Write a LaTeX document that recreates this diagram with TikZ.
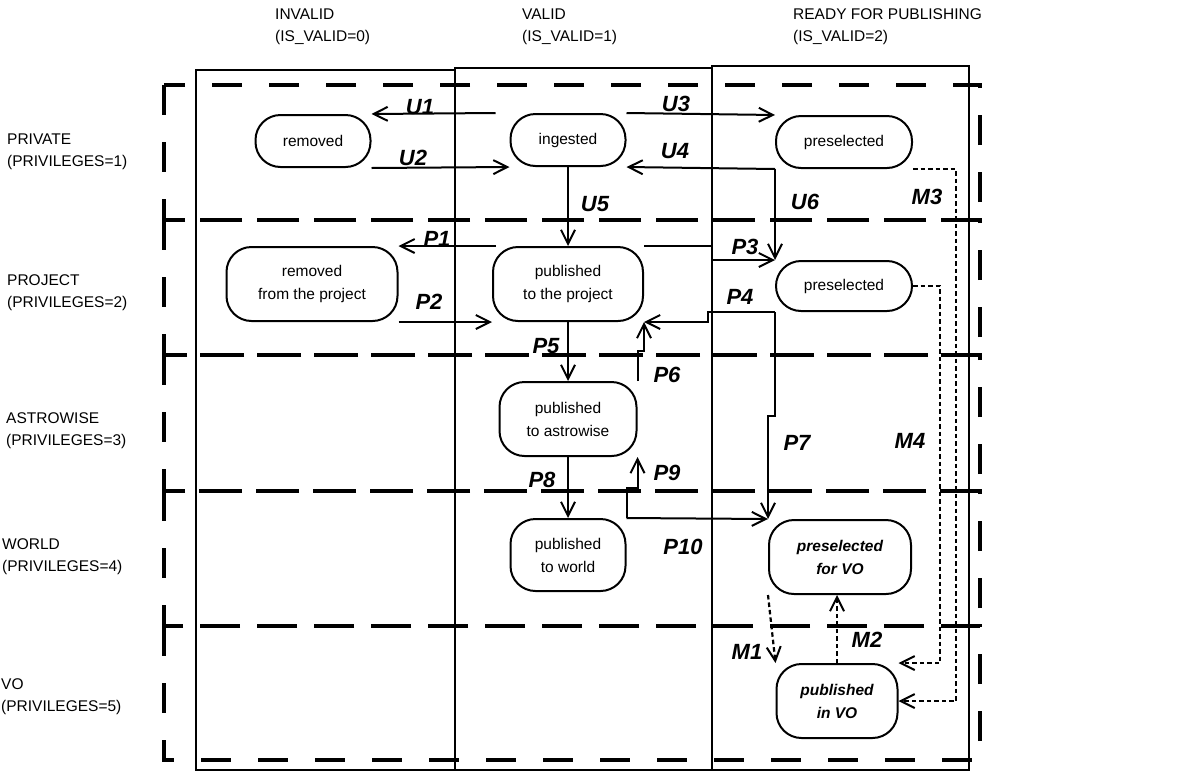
\documentclass[tikz,border=0pt]{standalone}
\usepackage{fontspec}
\setsansfont{Liberation Sans}
\usepackage{tikz}
\usetikzlibrary{arrows.meta,positioning}
\definecolor{stedge}{RGB}{0,0,0}
\tikzset{
  stbox/.style={
    draw=stedge, line width=2pt, rounded corners=25pt,
    align=center, inner sep=0pt, font=\sffamily\fontsize{15.5}{23}\selectfont,
    minimum height=52pt, minimum width=115pt
  },
  tallbox/.style={stbox, minimum height=74pt},
  vobox/.style={tallbox, font=\sffamily\bfseries\itshape\fontsize{15.5}{23}\selectfont},
  arr/.style={-{Straight Barb[length=14pt,width=14pt,line width=2pt]}, draw=stedge, line width=2pt},
  marr/.style={arr, line width=2.2pt, dash pattern=on 4.5pt off 3pt},
  lane/.style={draw=stedge, line width=3.2pt, dash pattern=on 30pt off 27pt},
  colbox/.style={draw=stedge, line width=2.2pt},
  lbl/.style={font=\sffamily\bfseries\itshape\fontsize{22}{24}\selectfont, inner sep=0pt},
  hdr/.style={font=\sffamily\fontsize{15.5}{22}\selectfont, align=left, anchor=west, inner sep=0pt},
  every picture/.append style={line join=miter}
}

\begin{document}
\begin{tikzpicture}[x=1pt,y=-1pt]
  \useasboundingbox (0,0) rectangle (1192,772);
  % privilege rows, dashed
  \foreach \t/\b in {85/220,220/355,355/491,491/626,626/760}
    \draw[lane] (164,\t) rectangle (980,\b);
  % validity columns
  \draw[colbox] (196,70) rectangle (455,770);
  \draw[colbox] (455,68) rectangle (712,770);
  \draw[colbox] (712,66) rectangle (969,770);
  % headers
  \node[hdr] (hinvalid) at (275,27) {INVALID\\(IS\_VALID=0)};
  \node[hdr] (hvalid) at (522,27) {VALID\\(IS\_VALID=1)};
  \node[hdr] (hready) at (793,27) {READY FOR PUBLISHING\\(IS\_VALID=2)};
  \node[hdr] (rprivate) at (7,152) {PRIVATE\\(PRIVILEGES=1)};
  \node[hdr] (rproject) at (7,293) {PROJECT\\(PRIVILEGES=2)};
  \node[hdr] (rastro) at (6,431) {ASTROWISE\\(PRIVILEGES=3)};
  \node[hdr] (rworld) at (2,557) {WORLD\\(PRIVILEGES=4)};
  \node[hdr] (rvo) at (1,697) {VO\\(PRIVILEGES=5)};
  % states
  \node[stbox] (removed) at (313,141) {removed};
  \node[stbox] (ingested) at (568,140) {ingested};
  \node[stbox, minimum width=136pt] (presel) at (844,142) {preselected};
  \node[tallbox, minimum width=171pt] (remproj) at (312,284) {removed\\from the project};
  \node[tallbox, minimum width=150pt] (pubproj) at (568,284) {published\\to the project};
  \node[stbox, minimum width=136pt, minimum height=50pt] (preselproj) at (844,286) {preselected};
  \node[tallbox, minimum width=137pt] (pubastro) at (568,419) {published\\to astrowise};
  \node[tallbox, minimum width=115pt, minimum height=72pt] (pubworld) at (568,555) {published\\to world};
  \node[vobox, minimum width=142pt] (prevo) at (840,557) {preselected\\for VO};
  \node[vobox, minimum width=121pt] (pubvo) at (837,701) {published\\in VO};
  % transitions
  \draw[arr] ([xshift=-14pt]ingested.north west) -- (removed.north east);
  \draw[arr] (removed.south east) -- (ingested.south west);
  \draw[arr] (ingested.north east) -- (presel.north west);
  \draw[arr] (presel.south west) -- (ingested.south east);
  \draw[arr] (presel.south west) -- (preselproj.north west);
  \draw[arr] (ingested) -- (pubproj);
  \draw[arr] ([xshift=4pt]pubproj.north west) -- (remproj.north east);
  \draw[arr] (remproj.south east) -- (pubproj.south west);
  \draw[arr] (pubproj.north east) -- ++(68,0) |- (preselproj.north west);
  \draw[arr] (preselproj.south west) -- ++(-67,0) |- (pubproj.south east);
  \draw[arr] (preselproj.south west) -- ++(0,104) -| (prevo.north west);
  \draw[arr] (pubproj) -- (pubastro);
  \draw[arr] (pubastro.north east) -- ++(0,-30) -| (pubproj.south east);
  \draw[arr] (pubastro) -- (pubworld);
  \draw[arr] (pubworld.north east) -- ++(0,-30) -| (pubastro.south east);
  \draw[arr] (pubworld.north east) -- (prevo.north west);
  \draw[marr] (prevo.south west) -- (pubvo.north west);
  \draw[marr] (pubvo.north) -- (pubvo.north |- prevo.south);
  \draw[marr] (presel.south east) -- ++(43,0) |- (pubvo.east);
  \draw[marr] (preselproj.east) -- ++(27,0) |- (pubvo.north east);
  % transition names
  \node[lbl] (lu1) at (420,107) {U1};
  \node[lbl] (lu2) at (413,158) {U2};
  \node[lbl] (lu3) at (676,104) {U3};
  \node[lbl] (lu4) at (675,151) {U4};
  \node[lbl] (lu5) at (595,204) {U5};
  \node[lbl] (lu6) at (805,202) {U6};
  \node[lbl] (lm3) at (927,197) {M3};
  \node[lbl] (lp1) at (437,239) {P1};
  \node[lbl] (lp2) at (429,302) {P2};
  \node[lbl] (lp3) at (745,247) {P3};
  \node[lbl] (lp4) at (740,297) {P4};
  \node[lbl] (lp5) at (546,346) {P5};
  \node[lbl] (lp6) at (667,375) {P6};
  \node[lbl] (lp7) at (797,443) {P7};
  \node[lbl] (lm4) at (910,441) {M4};
  \node[lbl] (lp8) at (542,480) {P8};
  \node[lbl] (lp9) at (667,473) {P9};
  \node[lbl] (lp10) at (683,547) {P10};
  \node[lbl] (lm1) at (747,652) {M1};
  \node[lbl] (lm2) at (867,640) {M2};
\end{tikzpicture}
\end{document}
